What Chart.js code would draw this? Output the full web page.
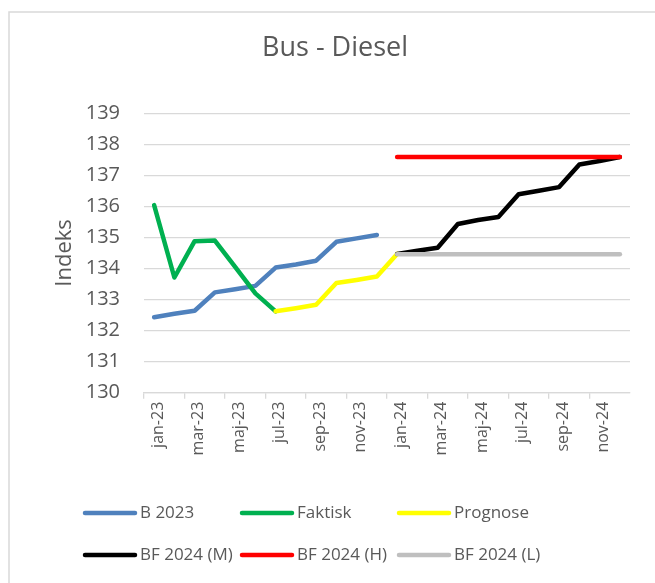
<!DOCTYPE html>
<html>
<head>
<meta charset="utf-8">
<script src="https://cdn.jsdelivr.net/npm/chart.js@4.4.1/dist/chart.umd.min.js"></script>
<style>
    body { margin: 0; background: #ffffff; }
    #wrap { width: 655px; height: 583px; }
</style>
</head>
<body>
<div id="wrap"><canvas id="busChart" width="655" height="583"></canvas></div>
<script>
// Bus - Diesel index chart
const months = [
    'jan-23', 'feb-23', 'mar-23', 'apr-23', 'maj-23', 'jun-23',
    'jul-23', 'aug-23', 'sep-23', 'okt-23', 'nov-23', 'dec-23',
    'jan-24', 'feb-24', 'mar-24', 'apr-24', 'maj-24', 'jun-24',
    'jul-24', 'aug-24', 'sep-24', 'okt-24', 'nov-24', 'dec-24'
];

const b2023 = [132.43, 132.54, 132.64, 133.23, 133.33, 133.44, 134.03, 134.13, 134.25, 134.86, 134.97, 135.08,
    null, null, null, null, null, null, null, null, null, null, null, null];
const faktisk = [136.04, 133.71, 134.88, 134.90, 134.05, 133.20, 132.62,
    null, null, null, null, null, null, null, null, null, null, null, null, null, null, null, null, null];
const prognose = [null, null, null, null, null, null, 132.62, 132.72, 132.83, 133.53, 133.63, 133.74, 134.47,
    null, null, null, null, null, null, null, null, null, null, null];
const bf2024M = [null, null, null, null, null, null, null, null, null, null, null, null,
    134.47, 134.57, 134.67, 135.43, 135.56, 135.66, 136.39, 136.50, 136.62, 137.35, 137.46, 137.59];
const bf2024H = [null, null, null, null, null, null, null, null, null, null, null, null,
    137.59, 137.59, 137.59, 137.59, 137.59, 137.59, 137.59, 137.59, 137.59, 137.59, 137.59, 137.59];
const bf2024L = [null, null, null, null, null, null, null, null, null, null, null, null,
    134.46, 134.46, 134.46, 134.46, 134.46, 134.46, 134.46, 134.46, 134.46, 134.46, 134.46, 134.46];

const seriesNames = ['B 2023', 'Faktisk', 'Prognose', 'BF 2024 (M)', 'BF 2024 (H)', 'BF 2024 (L)'];
const seriesData = [b2023, faktisk, prognose, bf2024M, bf2024H, bf2024L];
const seriesColors = ['#4f81bd', '#00b050', '#ffff00', '#000000', '#ff0000', '#bfbfbf'];

const TEXT = '#595959';
const GRID = '#d9d9d9';
const FONT = 'Open Sans';

// Excel-like legend: 3 columns, 2 rows
const legendPlugin = {
    id: 'excelLegend',
    afterDraw(chart) {
        const ctx = chart.ctx;
        const cols = [85, 242, 399];
        const rows = [513, 555];
        ctx.save();
        ctx.font = '17px "' + FONT + '"';
        ctx.textBaseline = 'middle';
        ctx.lineCap = 'round';
        chart.data.datasets.forEach((ds, i) => {
            const x = cols[i % 3];
            const y = rows[Math.floor(i / 3)];
            ctx.strokeStyle = ds.borderColor;
            ctx.lineWidth = 4.5;
            ctx.beginPath();
            ctx.moveTo(x, y);
            ctx.lineTo(x + 50, y);
            ctx.stroke();
            ctx.fillStyle = TEXT;
            ctx.fillText(ds.label, x + 55, y);
        });
        ctx.restore();
    }
};

const framePlugin = {
    id: 'frame',
    beforeDraw(chart) {
        const ctx = chart.ctx;
        ctx.save();
        ctx.fillStyle = '#ffffff';
        ctx.fillRect(0, 0, chart.width, chart.height);
        ctx.strokeStyle = GRID;
        ctx.lineWidth = 1.5;
        ctx.strokeRect(9, 12, 700, 700);
        ctx.restore();
    }
};

const datasets = seriesNames.map((name, i) => ({
    label: name,
    data: seriesData[i],
    borderColor: seriesColors[i],
    backgroundColor: seriesColors[i],
    borderWidth: 4.5,
    pointRadius: 0,
    borderCapStyle: 'round',
    borderJoinStyle: 'round',
    tension: 0,
    spanGaps: false,
    order: seriesNames.length - i
}));

new Chart(document.getElementById('busChart'), {
    type: 'line',
    data: { labels: months, datasets: datasets },
    options: {
        responsive: false,
        animation: false,
        layout: { padding: { left: 40, right: 25, top: 0, bottom: 90.3 } },
        plugins: {
            legend: { display: false },
            tooltip: { enabled: false },
            title: {
                display: true,
                text: 'Bus - Diesel',
                color: TEXT,
                font: { family: FONT, size: 27, weight: 'normal' },
                padding: { top: 31.8, bottom: 49.0 }
            }
        },
        scales: {
            x: {
                offset: true,
                afterFit: (scale) => { scale.height = 100; },
                grid: {
                    offset: true,
                    drawOnChartArea: false,
                    drawTicks: true,
                    tickLength: 6,
                    lineWidth: 1.3,
                    color: (c) => (c.index % 2 === 0 ? GRID : 'rgba(0,0,0,0)')
                },
                border: { display: true, color: GRID, width: 1.3 },
                ticks: {
                    autoSkip: false,
                    minRotation: 90,
                    maxRotation: 90,
                    padding: 3,
                    labelOffset: 4,
                    color: TEXT,
                    font: { family: FONT, size: 16 },
                    callback: function (value, index) {
                        return index % 2 === 0 ? this.getLabelForValue(value) : '';
                    }
                }
            },
            y: {
                min: 130,
                max: 139,
                afterFit: (scale) => { scale.width = 104; },
                grid: { color: GRID, lineWidth: 1.3, drawTicks: false },
                border: { display: false },
                ticks: {
                    stepSize: 1,
                    padding: 24,
                    color: TEXT,
                    font: { family: FONT, size: 20 }
                },
                title: {
                    display: true,
                    text: 'Indeks',
                    color: TEXT,
                    font: { family: FONT, size: 22 },
                    padding: { top: 11.3, bottom: 0 }
                }
            }
        }
    },
    plugins: [framePlugin, legendPlugin]
});
</script>
</body>
</html>
